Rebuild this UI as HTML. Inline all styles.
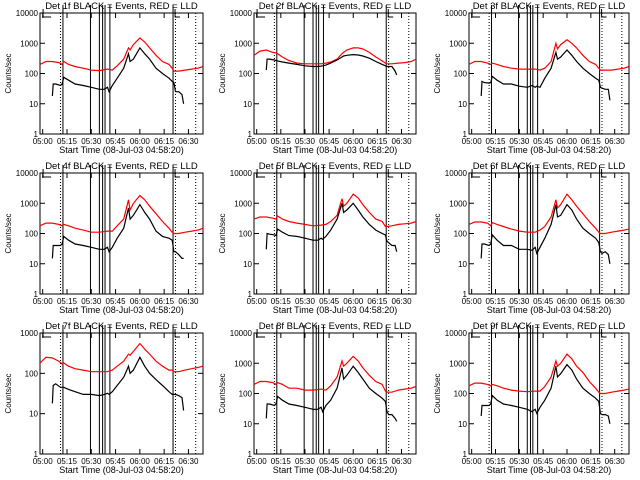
<!DOCTYPE html>
<html><head><meta charset="utf-8"><style>
body{margin:0;background:#fff}
svg{display:block}
text{font-family:"Liberation Sans",sans-serif;fill:#000}
</style></head><body>
<svg id="chart" width="640" height="480" viewBox="0 0 640 480" xmlns="http://www.w3.org/2000/svg"></svg>
<script>
const panelTitles = ["Det 1f","Det 2f","Det 3f","Det 4f","Det 5f","Det 6f","Det 7f","Det 8f","Det 9f"];
const tickLabels = ["05:00","05:15","05:30","05:45","06:00","06:15","06:30"];
const tickMinutes = [0,15,30,45,60,75,90];
const redT = [-1.7,2,6,10,12,13,16,20,25,30,35,40,43,46,50,53,54,56,60,63,66,70,74,78,80,81,84,88,92,96,99];
const blackT = [6,6.5,8,11,12,13,16,20,25,30,35,38,40,41,43,46,50,53,54,56,60,63,66,70,74,78,80,81,82,84,86,87];
const black1 = [18,45,45,40,45,75,60,45,40,35,30,30,35,25,40,70,150,450,250,300,700,450,300,150,100,70,55,50,25,25,20,10];
const red1 = [200,250,250,230,200,250,200,170,150,130,125,140,130,180,300,700,600,900,1500,1100,700,400,250,200,150,120,120,130,140,150,170];
const black2 = [130,300,300,280,270,260,240,220,200,180,170,170,175,180,190,220,280,350,380,400,420,410,380,320,250,200,180,170,170,170,120,90];
const red2 = [400,550,600,500,480,450,350,270,220,210,210,210,220,240,300,450,500,600,700,700,650,500,350,260,220,210,210,220,230,250,300];
const black3 = [18,55,50,48,50,80,60,45,45,38,35,40,35,38,35,70,150,500,300,350,600,400,250,150,100,70,60,35,33,30,30,13];
const red3 = [200,250,250,220,200,220,200,170,150,140,140,140,130,150,250,1000,650,900,1300,1000,700,400,250,200,150,130,130,130,140,150,170];
const black4 = [15,40,40,40,45,80,60,45,40,35,30,30,35,25,35,70,150,700,300,400,900,500,300,120,80,70,60,25,25,20,15,15];
const red4 = [180,220,220,200,180,200,180,150,130,110,110,120,120,180,300,1300,600,1000,1800,1300,800,450,250,150,110,100,100,110,120,130,150];
const black5 = [30,100,95,90,85,140,110,85,80,70,60,60,70,65,80,130,300,1000,500,600,1000,600,350,200,130,100,90,55,50,40,40,25];
const red5 = [300,350,350,320,300,380,300,250,220,200,180,190,200,250,400,1400,800,1000,2000,1500,900,500,300,250,170,170,180,200,210,220,250];
const black6 = [15,45,45,40,45,90,60,40,40,30,30,28,35,22,35,70,200,900,350,400,900,600,300,150,100,70,50,25,22,25,20,10];
const red6 = [200,240,240,220,180,230,200,170,140,120,110,110,130,170,350,1300,700,900,2000,1300,800,450,250,150,110,100,100,110,120,130,140];
const black7 = [18,50,55,45,45,45,40,35,30,30,28,30,32,30,35,50,80,150,100,120,250,150,100,70,50,35,30,30,30,28,25,12];
const red7 = [180,250,240,200,170,180,150,130,120,110,110,110,120,150,200,300,280,350,550,400,300,200,150,120,120,110,110,120,130,140,150];
const black8 = [15,45,45,40,45,80,60,45,40,35,30,30,35,25,40,60,150,700,300,400,800,500,300,150,100,70,55,25,20,20,15,12];
const red8 = [200,250,250,230,200,230,200,150,150,130,130,140,130,180,350,1200,800,1000,1700,1200,700,400,250,200,120,110,110,130,140,150,170];
const black9 = [18,40,40,40,45,85,60,45,40,35,30,25,30,22,35,60,150,800,350,450,900,600,300,150,100,70,55,22,20,20,18,10];
const red9 = [180,220,220,200,180,200,180,150,130,120,115,120,120,170,350,1200,800,1000,2000,1400,800,500,250,150,110,100,100,110,120,130,140];
const solidLines = [12.5,29.5,35,37,38.5,41.5,80.5];
const dottedLines = [11,82,94.5];

const blacks=[black1,black2,black3,black4,black5,black6,black7,black8,black9];
const reds=[red1,red2,red3,red4,red5,red6,red7,red8,red9];
const svg=document.getElementById('chart');
const NS='http://www.w3.org/2000/svg';
function mk(tag,attrs,parent){const e=document.createElementNS(NS,tag);for(const k in attrs)e.setAttribute(k,attrs[k]);(parent||svg).appendChild(e);return e;}
const colL=[40,254,469], colW=[163,162,160], rowT=[13,173,333], PH=121;

for(let p=0;p<9;p++){
  const c=p%3,r=Math.floor(p/3);
  const L=colL[c],W=colW[c],T=rowT[r],B=T+PH;
  const maxDec = (p===6)?3:4;
  const g=mk('g',{});
  
  
  const x=t=>L+(t+1.67)*W/100.67;
  const y=v=>B-Math.log10(Math.max(v,1))/maxDec*PH;
  const fr=mk('rect',{x:L,y:T,width:W,height:PH,fill:'none',stroke:'#000','stroke-width':1},g);
  
  
  for(let d=0;d<=maxDec;d++){
    const yy=y(Math.pow(10,d));
    mk('line',{x1:L,x2:L+5,y1:yy,y2:yy,stroke:'#000'},g);
    mk('line',{x1:L+W-5,x2:L+W,y1:yy,y2:yy,stroke:'#000'},g);
    const tl=mk('text',{x:L-2,y:yy+3,'font-size':8,'text-anchor':'end'},g);
    tl.textContent=String(Math.pow(10,d));
    
    
  }
  tickMinutes.forEach((tm,i)=>{
    const xx=x(tm);
    mk('line',{x1:xx,x2:xx,y1:B,y2:B-5,stroke:'#000'},g);
    mk('line',{x1:xx,x2:xx,y1:T,y2:T+5,stroke:'#000'},g);
    const tl=mk('text',{x:xx,y:B+10,'font-size':8,'text-anchor':'middle'},g);
    tl.textContent=tickLabels[i];
    
    
  });
  solidLines.forEach(t=>{const l=mk('line',{x1:x(t),x2:x(t),y1:T-8,y2:B,stroke:'#000'},g);});
  dottedLines.forEach(t=>{const l=mk('line',{x1:x(t),x2:x(t),y1:T,y2:B,stroke:'#000','stroke-dasharray':'1,2'},g);});
  [[-1,8],[80.5,5]].forEach(([t,w])=>{mk('polyline',{points:`${x(t)+2},${T-4} ${x(t)+2},${T+4} ${x(t)+2+w},${T+4}`,fill:'none',stroke:'#000'},g);});
  const rp=mk('polyline',{points:redT.map((t,i)=>x(t).toFixed(1)+','+y(reds[p][i]).toFixed(1)).join(' '),fill:'none',stroke:'#ff0000','stroke-width':1.2},g);
  
  
  const bp=mk('polyline',{points:blackT.map((t,i)=>x(t).toFixed(1)+','+y(blacks[p][i]).toFixed(1)).join(' '),fill:'none',stroke:'#000','stroke-width':1.2},g);
  
  
  const tt=mk('text',{x:L+W/2,y:T-4,'font-size':9.5,'text-anchor':'middle'},g);
  tt.textContent=panelTitles[p]+' BLACK = Events, RED = LLD';
  
  
  const xt=mk('text',{x:L+W/2,y:B+19,'font-size':9,'text-anchor':'middle'},g);
  xt.textContent='Start Time (08-Jul-03 04:58:20)';
  
  
  const yt=mk('text',{x:0,y:0,'font-size':8,'text-anchor':'middle',transform:`translate(${L-29},${(T+B)/2}) rotate(-90)`},g);
  yt.textContent='Counts/sec';
  
  
}
</script>
</body></html>
